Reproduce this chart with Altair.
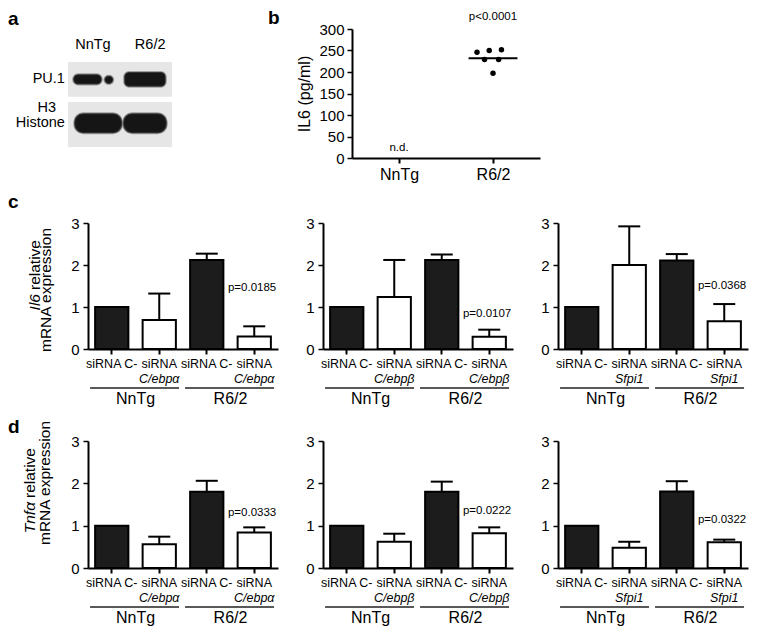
import altair as alt
import pandas as pd

FONT = "Liberation Sans"
TOTAL_W = 660
TOTAL_H = 598

# ---------------- panel a: western blot ----------------
blot_lanes = ["NnTg", "R6/2"]
blot_lane_x = [0.48, 1.58]
blot_lane_label_y = [-0.40, -0.40]
blot_row_labels = ["PU.1", "H3", "Histone"]
blot_row_label_x = [-0.06, -0.23, -0.06]
blot_row_label_y = [0.40, 1.08, 1.44]
blot_box_top = [0.00, 0.94]
blot_box_bottom = [0.82, 2.00]
pu1_start = [0.10, 0.70, 1.08]
pu1_end = [0.65, 0.87, 1.88]
pu1_center = [0.41, 0.42, 0.41]
pu1_thick = [0.24, 0.19, 0.35]
h3_start = [0.12, 1.06]
h3_end = [1.04, 1.90]
h3_center = [1.44, 1.44]
h3_thick = [0.47, 0.47]

# ---------------- panel b: IL6 ELISA ----------------
b_groups = ["NnTg", "R6/2"]
b_il6_r62 = [246, 250, 252, 229, 229, 197]
b_jitter = [-0.17, -0.04, 0.09, -0.09, 0.06, 0.0]
b_mean = 232
b_nd_y = 23
b_p_y = 328
b_ptext = "p<0.0001"

# ---------------- panels c, d: qPCR ----------------
cats = ["siRNA C- NnTg", "siRNA NnTg", "siRNA C- R6/2", "siRNA R6/2"]
line1 = ["siRNA C-", "siRNA", "siRNA C-", "siRNA"]
kinds = ["ctrl", "si", "ctrl", "si"]
group_names = ["NnTg", "R6/2"]
targets = ["C/ebpα", "C/ebpβ", "Sfpi1"]

c_means = [[1.00, 0.69, 2.12, 0.30], [1.00, 1.24, 2.12, 0.29], [1.00, 2.00, 2.11, 0.66]]
c_upper = [[None, 1.32, 2.27, 0.54], [None, 2.12, 2.25, 0.46], [None, 2.92, 2.26, 1.07]]
c_ptext = ["p=0.0185", "p=0.0107", "p=0.0368"]
c_p_y = [1.45, 0.83, 1.50]

d_means = [[1.00, 0.56, 1.80, 0.84], [1.00, 0.62, 1.80, 0.82], [1.00, 0.48, 1.81, 0.61]]
d_upper = [[None, 0.74, 2.06, 0.96], [None, 0.81, 2.04, 0.96], [None, 0.62, 2.05, 0.67]]
d_ptext = ["p=0.0333", "p=0.0222", "p=0.0322"]
d_p_y = [1.29, 1.34, 1.14]

one = pd.DataFrame({"k": [0]})


def letter_layer(letter, x, y):
    return alt.Chart(one).mark_text(
        fontSize=19, fontWeight="bold", align="left", baseline="alphabetic", color="black"
    ).encode(x=alt.value(x), y=alt.value(y), text=alt.value(letter))


# ---- panel a (plot origin at 0,0) ----
ax = alt.Scale(domain=[0, 2], range=[-20, 84], nice=False, zero=False)
ay = alt.Scale(domain=[0, 2], range=[33, 118], nice=False, zero=False)
boxes = pd.DataFrame({"x": [0, 0], "x2": [2, 2], "y": blot_box_top, "y2": blot_box_bottom})
box_layer = alt.Chart(boxes).mark_rect(color="#e6e6e6").encode(
    x=alt.X("x:Q", scale=ax, axis=None), x2="x2:Q",
    y=alt.Y("y:Q", scale=ay, axis=None), y2="y2:Q")
pu1 = pd.DataFrame({"x": pu1_start, "x2": pu1_end,
                    "y": [c - t / 2 for c, t in zip(pu1_center, pu1_thick)],
                    "y2": [c + t / 2 for c, t in zip(pu1_center, pu1_thick)]})
h3 = pd.DataFrame({"x": h3_start, "x2": h3_end,
                   "y": [c - t / 2 for c, t in zip(h3_center, h3_thick)],
                   "y2": [c + t / 2 for c, t in zip(h3_center, h3_thick)]})
pu1_layer = alt.Chart(pu1).mark_rect(color="#151515", cornerRadius=5, stroke="#555555",
                                      strokeWidth=2, strokeOpacity=0.5).encode(
    x=alt.X("x:Q", scale=ax, axis=None), x2="x2:Q",
    y=alt.Y("y:Q", scale=ay, axis=None), y2="y2:Q")
h3_layer = alt.Chart(h3).mark_rect(color="#151515", cornerRadius=9, stroke="#555555",
                                    strokeWidth=2, strokeOpacity=0.5).encode(
    x=alt.X("x:Q", scale=ax, axis=None), x2="x2:Q",
    y=alt.Y("y:Q", scale=ay, axis=None), y2="y2:Q")
lane_df = pd.DataFrame({"x": blot_lane_x, "y": blot_lane_label_y, "t": blot_lanes})
lane_txt = alt.Chart(lane_df).mark_text(fontSize=14.5, color="black", baseline="middle").encode(
    x=alt.X("x:Q", scale=ax, axis=None), y=alt.Y("y:Q", scale=ay, axis=None), text="t:N")
row_df = pd.DataFrame({"x": blot_row_label_x, "y": blot_row_label_y, "t": blot_row_labels})
row_txt = alt.Chart(row_df).mark_text(fontSize=14.5, color="black", align="right",
                                      baseline="middle").encode(
    x=alt.X("x:Q", scale=ax, axis=None), y=alt.Y("y:Q", scale=ay, axis=None), text="t:N")
panel_a = alt.layer(box_layer, pu1_layer, h3_layer, lane_txt, row_txt,
                    letter_layer("a", -80, -4))

# ---- panel b (plot x 264..452, y 0..129) ----
B_X0, B_W, B_H = 264, 188, 129
bxs = alt.Scale(domain=[0, 2], range=[B_X0, B_X0 + B_W], nice=False, zero=False)
bX = lambda f: alt.X(f, scale=bxs, axis=alt.Axis(
    values=[i + 0.5 for i in range(len(b_groups))],
    labelExpr="datum.value < 1 ? '%s' : '%s'" % (b_groups[0], b_groups[1]),
    title=None, grid=False, labelFontSize=16, tickSize=5, tickWidth=2, domainWidth=2,
    labelPadding=3, labelColor="black", tickColor="black", domainColor="black",
    orient="bottom", offset=B_H - TOTAL_H))
bys = alt.Scale(domain=[0, 300], range=[B_H, 0], nice=False)
bY = lambda f: alt.Y(f, scale=bys, axis=alt.Axis(
    values=list(range(0, 301, 50)), title="IL6  (pg/ml)", titleFontSize=16,
    titleFontWeight="normal", titleColor="black", titlePadding=6, labelFontSize=15,
    labelColor="black", grid=False, tickSize=5, tickWidth=1.5, domainWidth=2,
    tickColor="black", domainColor="black", labelPadding=3, orient="left", offset=-B_X0))
r62 = b_groups.index("R6/2") + 0.5
dots = pd.DataFrame({"x": [r62 + j for j in b_jitter], "v": b_il6_r62})
dot_layer = alt.Chart(dots).mark_circle(size=30, color="black", opacity=1).encode(
    x=bX("x:Q"), y=bY("v:Q"))
mean_df = pd.DataFrame({"x": [r62 - 0.26], "x2": [r62 + 0.26], "v": [b_mean]})
mean_layer = alt.Chart(mean_df).mark_rule(color="black", strokeWidth=2).encode(
    x=bX("x:Q"), x2="x2:Q", y=bY("v:Q"))
btxt = pd.DataFrame({"x": [0.5, r62], "v": [b_nd_y, b_p_y], "t": ["n.d.", b_ptext]})
btxt_layer = alt.Chart(btxt).mark_text(fontSize=11.5, color="black", baseline="middle").encode(
    x=bX("x:Q"), y=bY("v:Q"), text="t:N")
panel_b = alt.layer(mean_layer, dot_layer, btxt_layer, letter_layer("b", B_X0 - 84, -5))


def bar_panel(means, upper, target, ptext, p_y, x0, ptop, plot_h, gene=None, letter=None,
              letter_y=0, title_pos=None, width=190):
    pbot = ptop + plot_h
    df = pd.DataFrame({"cat": cats, "val": means, "up": upper, "kind": kinds, "l1": line1,
                       "l2": ["", target, "", target]})
    xs = alt.Scale(type="band", domain=cats, range=[x0, x0 + width],
                   paddingInner=0.3, paddingOuter=0.15)
    xaxis = alt.Axis(labels=False, title=None, ticks=True, tickSize=5, tickWidth=2,
                     domainWidth=2, domainColor="black", tickColor="black", grid=False,
                     orient="bottom", offset=pbot - TOTAL_H)
    X = lambda f: alt.X(f, scale=xs, axis=xaxis)
    ys = alt.Scale(domain=[0, 3], range=[pbot, ptop], nice=False)
    yaxis = alt.Axis(values=[0, 1, 2, 3], title=None, tickSize=5, tickWidth=1.5, domainWidth=2,
                     labelFontSize=15, labelPadding=4, grid=False, labelColor="black",
                     tickColor="black", domainColor="black", format="d",
                     orient="left", offset=-x0)
    Y = lambda f: alt.Y(f, scale=ys, axis=yaxis)

    bars = alt.Chart(df).mark_bar(stroke="black", strokeWidth=2).encode(
        x=X("cat:N"), y=Y("val:Q"),
        fill=alt.Fill("kind:N", scale=alt.Scale(domain=["ctrl", "si"],
                                                range=["#1c1c1c", "#ffffff"]), legend=None))
    err = alt.Chart(df).transform_filter("isValid(datum.up)").mark_rule(
        color="black", strokeWidth=2).encode(x=X("cat:N"), y=Y("val:Q"), y2="up:Q")
    cap = alt.Chart(df).transform_filter("isValid(datum.up)").mark_tick(
        color="black", thickness=2, size=22, opacity=1).encode(x=X("cat:N"), y=Y("up:Q"))
    t1 = alt.Chart(df).mark_text(fontSize=12.5, color="black", baseline="middle").encode(
        x=X("cat:N"), y=alt.value(pbot + 15), text="l1:N")
    t2 = alt.Chart(df).mark_text(fontSize=12.5, color="black", baseline="middle",
                                 fontStyle="italic").encode(
        x=X("cat:N"), y=alt.value(pbot + 30), text="l2:N")
    gdf = pd.DataFrame({"a": [cats[0], cats[2]], "g": group_names})
    under = alt.Chart(gdf).mark_tick(color="#222222", thickness=1.5, size=89,
                                     orient="horizontal", xOffset=22.8, opacity=1).encode(
        x=X("a:N"), y=alt.value(pbot + 39))
    glab = alt.Chart(gdf).mark_text(fontSize=16, color="black", baseline="middle",
                                    xOffset=23.75).encode(
        x=X("a:N"), y=alt.value(pbot + 50), text="g:N")
    pdf = pd.DataFrame({"cat": [cats[3]], "py": [p_y], "t": [ptext]})
    ptxt = alt.Chart(pdf).mark_text(fontSize=11.5, color="black", baseline="middle",
                                    align="right", xOffset=22).encode(
        x=X("cat:N"), y=Y("py:Q"), text="t:N")
    layers = [bars, err, cap, t1, t2, under, glab, ptxt]
    if gene is not None:
        gx, gy, rx, ry, mx, my = title_pos
        layers.append(alt.Chart(one).mark_text(
            fontSize=15.5, fontStyle="italic", angle=270, align="right", baseline="middle",
            color="black").encode(x=alt.value(x0 + gx), y=alt.value(ptop + gy),
                                  text=alt.value(gene)))
        layers.append(alt.Chart(one).mark_text(
            fontSize=15.5, angle=270, align="left", baseline="middle",
            color="black").encode(x=alt.value(x0 + rx), y=alt.value(ptop + ry),
                                  text=alt.value("relative")))
        layers.append(alt.Chart(one).mark_text(
            fontSize=15.5, angle=270, align="center", baseline="middle",
            color="black").encode(x=alt.value(x0 + mx), y=alt.value(ptop + my),
                                  text=alt.value("mRNA expression")))
    if letter is not None:
        layers.append(letter_layer(letter, x0 - 80, ptop + letter_y))
    return alt.layer(*layers)


PANEL_X = [0, 235, 470]
C_TOP, C_H = 194, 126
D_TOP, D_H = 412, 127

panels = [panel_a, panel_b]
for i in range(3):
    panels.append(bar_panel(c_means[i], c_upper[i], targets[i], c_ptext[i], c_p_y[i],
                            PANEL_X[i], C_TOP, C_H,
                            gene="Il6" if i == 0 else None, letter="c" if i == 0 else None,
                            letter_y=-15, title_pos=(-53, 71, -53, 67, -42, 67)))
for i in range(3):
    panels.append(bar_panel(d_means[i], d_upper[i], targets[i], d_ptext[i], d_p_y[i],
                            PANEL_X[i], D_TOP, D_H,
                            gene="Tnfα" if i == 0 else None, letter="d" if i == 0 else None,
                            letter_y=-8, title_pos=(-58, 61, -58, 57, -43, 42)))

chart = alt.layer(*panels).resolve_scale(
    x="independent", y="independent", fill="independent"
).resolve_axis(
    x="independent", y="independent"
).properties(
    width=TOTAL_W, height=TOTAL_H,
    autosize=alt.AutoSizeParams(type="none"),
    padding={"left": 80, "top": 21, "right": 5, "bottom": 0}
).configure(font=FONT).configure_view(stroke=None)

chart.save("out.html", embed_options={"renderer": "svg", "actions": False})
